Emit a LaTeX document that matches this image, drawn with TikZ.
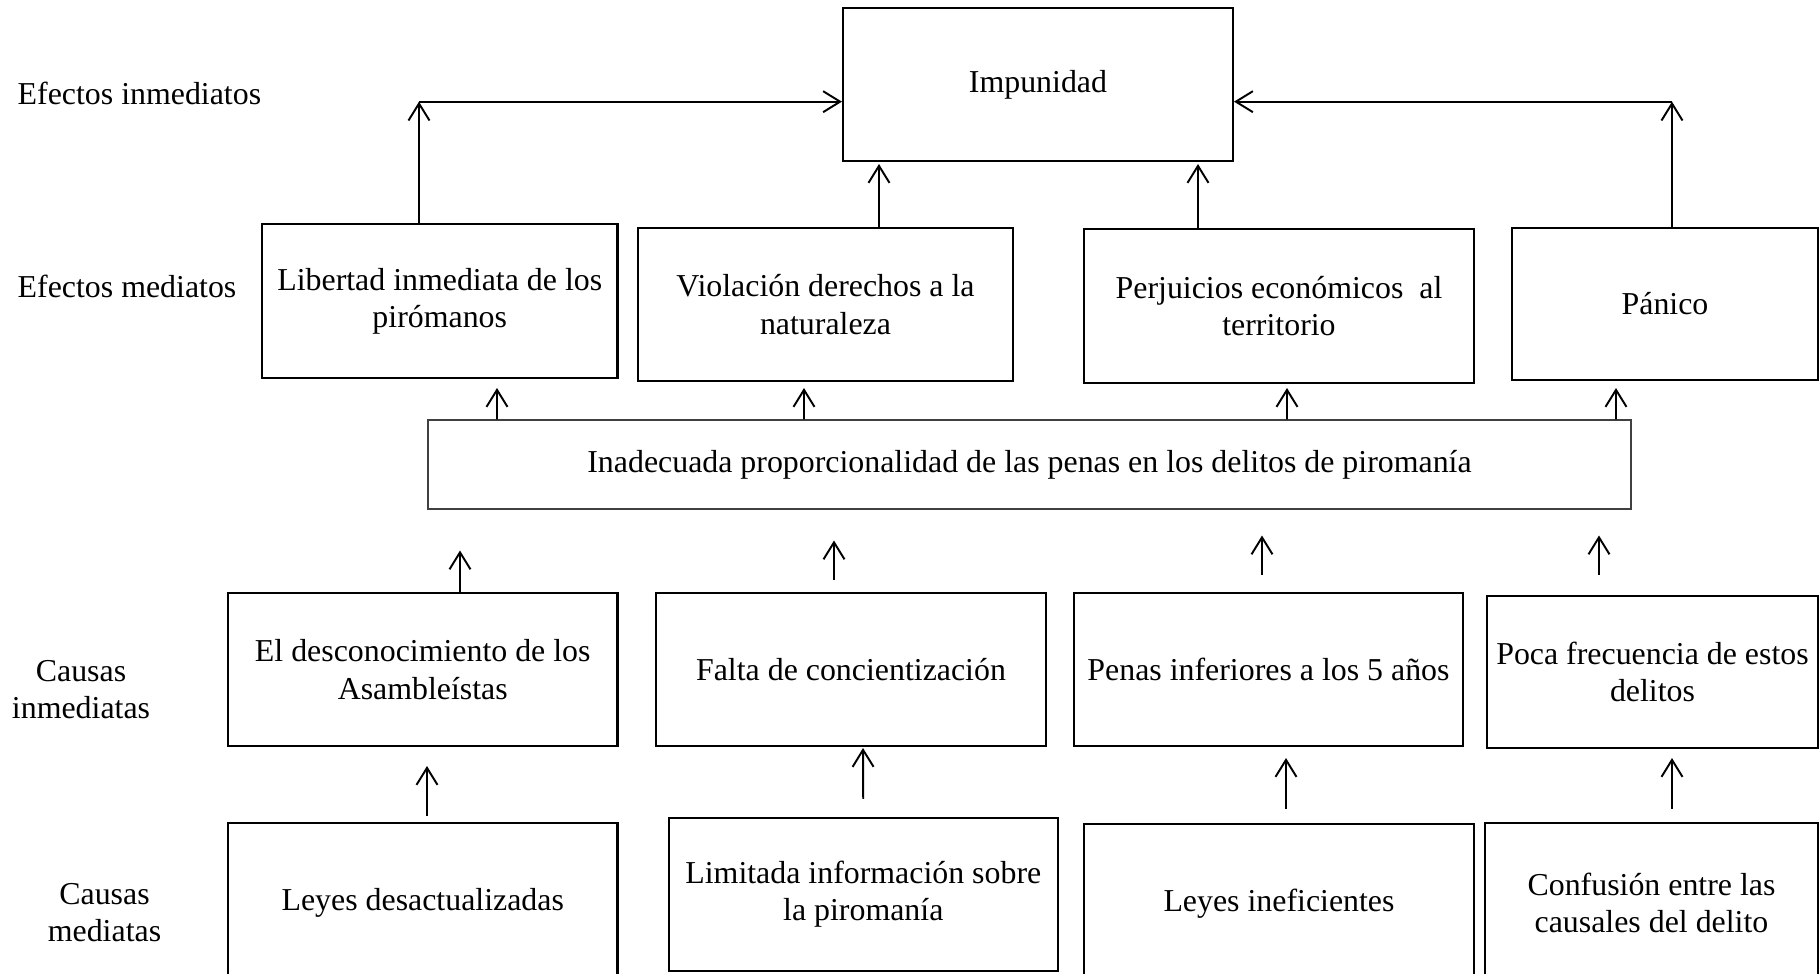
\documentclass[tikz,border=0pt]{standalone}
\usepackage{fontspec}
\setmainfont{Liberation Serif}
\usetikzlibrary{arrows.meta}

\begin{document}
\begin{tikzpicture}[
    font=\fontsize{9.07}{10.6}\selectfont,
    box/.style={draw, line width=0.6pt, inner sep=0pt, align=center},
    thin box/.style={draw=black!75, line width=0.3pt, inner sep=0pt, align=center},
    arr/.style={-{Straight Barb[length=1.7mm,width=2.1mm]}, line width=0.55pt}
  ]
    \path[use as bounding box] (0,0) rectangle (18.2,9.74);

    \node (inmediatos-label) at (0.17,8.81) [anchor=west, inner sep=0pt] {Efectos inmediatos};
    \node (mediatos-label) at (0.17,6.88) [anchor=west, inner sep=0pt] {Efectos mediatos};
    \node (causas-inm-label) at (0.81,2.845) [align=center] {Causas\\inmediatas};
    \node (causas-med-label) at (1.045,0.615) [align=center] {Causas\\mediatas};

    \node (impunidad-box) at (10.38,8.895) [box, minimum width=3.9cm, minimum height=1.53cm] {\raisebox{-0.05cm}{Impunidad}};

    \node (libertad-box) at (4.3975,6.73) [box, minimum width=3.555cm, minimum height=1.54cm] {Libertad inmediata de los\\pirómanos};
    \node (violacion-box) at (8.255,6.695) [box, minimum width=3.75cm, minimum height=1.53cm] {Violación derechos a la\\naturaleza};
    \node (perjuicios-box) at (12.79,6.68) [box, minimum width=3.9cm, minimum height=1.54cm] {Perjuicios económicos\ \ al\\territorio};
    \node (panico-box) at (16.65,6.70) [box, minimum width=3.06cm, minimum height=1.52cm] {Pánico};

    \node (inadecuada-box) at (10.295,5.095) [thin box, minimum width=12.03cm, minimum height=0.89cm] {Inadecuada proporcionalidad de las penas en los delitos de piromanía};

    \node (desconocimiento-box) at (4.2275,3.045) [box, minimum width=3.895cm, minimum height=1.53cm] {El desconocimiento de los\\Asambleístas};
    \node (falta-box) at (8.51,3.045) [box, minimum width=3.9cm, minimum height=1.53cm] {Falta de concientización};
    \node (penas-box) at (12.685,3.045) [box, minimum width=3.89cm, minimum height=1.53cm] {Penas inferiores a los 5 años};
    \node (poca-box) at (16.525,3.02) [box, minimum width=3.31cm, minimum height=1.52cm] {Poca frecuencia de estos\\delitos};

    \node (leyes-desact-box) at (4.2275,0.71) [box, minimum width=3.895cm, minimum height=1.6cm] {Leyes desactualizadas};
    \node (limitada-box) at (8.633,0.795) [box, minimum width=3.894cm, minimum height=1.53cm] {Limitada información sobre\\la piromanía};
    \node (leyes-inef-box) at (12.79,0.70) [box, minimum width=3.9cm, minimum height=1.6cm] {Leyes ineficientes};
    \node (confusion-box) at (16.515,0.71) [box, minimum width=3.33cm, minimum height=1.6cm] {Confusión entre las\\causales del delito};

    \coordinate (left-corner) at (4.19,8.723);
    \coordinate (right-corner) at (16.72,8.723);

    \draw [arr] ([xshift=-0.2075cm]libertad-box.north) -- (left-corner);
    \draw [arr] (left-corner) -- (left-corner -| impunidad-box.west);
    \draw [arr] ([xshift=0.07cm]panico-box.north) -- (right-corner);
    \draw [arr] (right-corner) -- (right-corner -| impunidad-box.east);
    \draw [arr, shorten >=0.02cm] ([xshift=0.535cm]violacion-box.north) -- ([xshift=-1.59cm]impunidad-box.south);
    \draw [arr, shorten >=0.02cm] ([xshift=-0.81cm]perjuicios-box.north) -- ([xshift=1.6cm]impunidad-box.south);

    \draw [arr, shorten >=0.09cm] ([xshift=-5.325cm]inadecuada-box.north) -- ([xshift=0.5725cm]libertad-box.south);
    \draw [arr, shorten >=0.06cm] ([xshift=-2.255cm]inadecuada-box.north) -- ([xshift=-0.215cm]violacion-box.south);
    \draw [arr, shorten >=0.04cm] ([xshift=2.575cm]inadecuada-box.north) -- ([xshift=0.08cm]perjuicios-box.south);
    \draw [arr, shorten >=0.07cm] ([xshift=5.865cm]inadecuada-box.north) -- ([xshift=-0.49cm]panico-box.south);

    \draw [arr, shorten >=0.41cm] ([xshift=0.3725cm]desconocimiento-box.north) -- ([xshift=-5.695cm]inadecuada-box.south);
    \draw [arr, shorten <=0.12cm, shorten >=0.31cm] ([xshift=-0.17cm]falta-box.north) -- ([xshift=-1.955cm]inadecuada-box.south);
    \draw [arr, shorten <=0.17cm, shorten >=0.26cm] ([xshift=-0.065cm]penas-box.north) -- ([xshift=2.325cm]inadecuada-box.south);
    \draw [arr, shorten <=0.2cm, shorten >=0.26cm] ([xshift=-0.535cm]poca-box.north) -- ([xshift=5.695cm]inadecuada-box.south);

    \draw [arr, shorten <=0.06cm, shorten >=0.19cm] ([xshift=0.0425cm]leyes-desact-box.north) -- ([xshift=0.0425cm]desconocimiento-box.south);
    \draw [arr, shorten <=0.18cm, shorten >=0.01cm] (limitada-box.north) -- ([xshift=0.12cm]falta-box.south);
    \draw [arr, shorten <=0.14cm, shorten >=0.11cm] ([xshift=0.07cm]leyes-inef-box.north) -- ([xshift=0.175cm]penas-box.south);
    \draw [arr, shorten <=0.13cm, shorten >=0.09cm] ([xshift=0.205cm]confusion-box.north) -- ([xshift=0.195cm]poca-box.south);
  \end{tikzpicture}
\end{document}
